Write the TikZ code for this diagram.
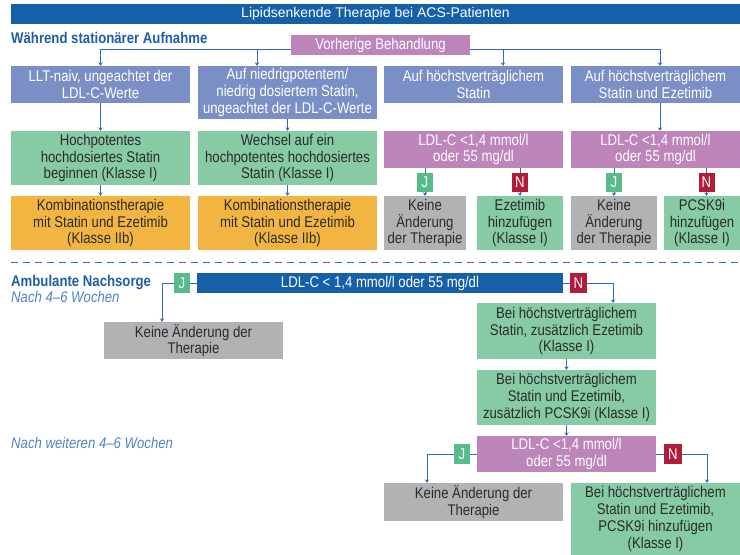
\documentclass[tikz,border=0pt]{standalone}
\usepackage{fontspec}
\setmainfont[FakeStretch=0.85]{Liberation Sans}
\newfontfamily\titelfont{Liberation Sans}
\usetikzlibrary{arrows.meta}
\definecolor{titelblau}{HTML}{1560A9}
\definecolor{kopfblau}{HTML}{1E5EA6}
\definecolor{hellblau}{HTML}{4C84C4}
\definecolor{schiefer}{HTML}{7B8FC7}
\definecolor{lila}{HTML}{BE85BA}
\definecolor{gruen}{HTML}{87CBA5}
\definecolor{orange}{HTML}{F3B541}
\definecolor{grau}{HTML}{B1B2B4}
\definecolor{jgruen}{HTML}{58BC8A}
\definecolor{nrot}{HTML}{B11C3B}
\definecolor{linie}{HTML}{2E6EB8}
\definecolor{dunkel}{HTML}{2B2B2B}
\begin{document}
\begin{tikzpicture}[x=1pt,y=-1pt,
    box/.style={inner sep=0pt, align=center, font=\fontsize{15.5}{16.7}\selectfont},
    frage/.style={box, fill=schiefer, text=white},
    ldl/.style={box, fill=lila, text=white},
    therapie/.style={box, fill=gruen, text=dunkel},
    kombi/.style={box, fill=orange, text=dunkel},
    keine/.style={box, fill=grau, text=dunkel},
    tag/.style={box, text=white, minimum width=16pt, minimum height=19pt},
    ja/.style={tag, fill=jgruen},
    nein/.style={tag, fill=nrot},
    kopf/.style={anchor=base west, inner sep=0pt, text=kopfblau, font=\bfseries\fontsize{15.5}{16}\selectfont},
    zeit/.style={anchor=base west, inner sep=0pt, text=hellblau, font=\itshape\fontsize{15.5}{16}\selectfont},
    pfeil/.style={draw=linie, line width=1pt, -{Stealth[length=3.5pt,width=4.5pt]}},
    trenn/.style={draw=linie, line width=1pt, dash pattern=on 7pt off 5pt}]
    \useasboundingbox (0,0) rectangle (740,555);

    \node[box, fill=titelblau, text=white, minimum width=729pt, minimum height=20pt, font=\titelfont\fontsize{14}{14}\selectfont] (titel) at (375.5,14) {Lipidsenkende Therapie bei ACS-Patienten};
    \node[kopf] (stationaer) at (11,43) {Während stationärer Aufnahme};
    \node[ldl, minimum width=179pt, minimum height=20pt] (vorher) at (380.5,45) {Vorherige Behandlung};

    \node[frage, minimum width=179pt, minimum height=37pt] (naiv) at (100.5,84.5) {LLT-naiv, ungeachtet der\\LDL-C-Werte};
    \node[frage, minimum width=179pt, minimum height=53pt] (niedrig) at (287.5,92.5) {Auf niedrigpotentem/\\niedrig dosiertem Statin,\\ungeachtet der LDL-C-Werte};
    \node[frage, minimum width=179pt, minimum height=37pt] (hoechst) at (473.5,84.5) {Auf höchstverträglichem\\Statin};
    \node[frage, minimum width=169pt, minimum height=37pt] (hoechstez) at (655.5,84.5) {Auf höchstverträglichem\\Statin und Ezetimib};

    \node[therapie, minimum width=179pt, minimum height=54pt] (beginn) at (100.5,158) {Hochpotentes\\hochdosiertes Statin\\beginnen (Klasse I)};
    \node[therapie, minimum width=179pt, minimum height=54pt] (wechsel) at (287.5,158) {Wechsel auf ein\\hochpotentes hochdosiertes\\Statin (Klasse I)};
    \node[ldl, minimum width=179pt, minimum height=37pt] (ldla) at (473.5,149.5) {LDL-C <1,4 mmol/l\\oder 55 mg/dl};
    \node[ldl, minimum width=169pt, minimum height=37pt] (ldlb) at (655.5,149.5) {LDL-C <1,4 mmol/l\\oder 55 mg/dl};

    \node[kombi, minimum width=179pt, minimum height=54pt] (kombia) at (100.5,223) {Kombinationstherapie\\mit Statin und Ezetimib\\(Klasse IIb)};
    \node[kombi, minimum width=179pt, minimum height=54pt] (kombib) at (287.5,223) {Kombinationstherapie\\mit Statin und Ezetimib\\(Klasse IIb)};
    \node[keine, minimum width=82pt, minimum height=54pt] (keinea) at (425,223) {Keine\\Änderung\\der Therapie};
    \node[therapie, minimum width=86pt, minimum height=54pt] (eze) at (520,223) {Ezetimib\\hinzufügen\\(Klasse I)};
    \node[keine, minimum width=86pt, minimum height=54pt] (keineb) at (614,223) {Keine\\Änderung\\der Therapie};
    \node[therapie, minimum width=76pt, minimum height=54pt] (pcsk) at (702,223) {PCSK9i\\hinzufügen\\(Klasse I)};

    \draw[pfeil] ([yshift=-4pt]vorher.west) -| (naiv.north);
    \draw[pfeil] ([yshift=-4pt]vorher.west) -| ([xshift=-30.5pt]niedrig.north);
    \draw[pfeil] ([yshift=-4pt]vorher.east) -| ([xshift=29.5pt]hoechst.north);
    \draw[pfeil] ([yshift=-4pt]vorher.east) -| ([xshift=4.5pt]hoechstez.north);
    \draw[pfeil] (naiv) -- (beginn);
    \draw[pfeil] (niedrig) -- (wechsel);
    \draw[pfeil] ([xshift=4.5pt]hoechstez.south) -- ([xshift=4.5pt]ldlb.north);
    \draw[pfeil] (beginn) -- (kombia);
    \draw[pfeil] (wechsel) -- (kombib);
    \draw[pfeil] (keinea.north |- ldla.south) -- (keinea.north);
    \draw[pfeil] (eze.north |- ldla.south) -- (eze.north);
    \draw[pfeil] (keineb.north |- ldlb.south) -- (keineb.north);
    \draw[pfeil] ([xshift=4.5pt]pcsk.north |- ldlb.south) -- ([xshift=4.5pt]pcsk.north);
    \node[ja] (ja1) at (425,182.5) {J};
    \node[nein] (nein1) at (520,182.5) {N};
    \node[ja] (ja2) at (614,182.5) {J};
    \node[nein] (nein2) at (706.5,182.5) {N};

    \draw[trenn] (11,262) -- (740,262);

    \node[kopf] (ambulant) at (11,286) {Ambulante Nachsorge};
    \node[zeit] (woche) at (11,302) {Nach 4--6 Wochen};
    \node[zeit] (weitere) at (11,448) {Nach weiteren 4--6 Wochen};

    \node[box, fill=titelblau, text=white, minimum width=366pt, minimum height=20pt] (balken) at (380,283) {LDL-C < 1,4 mmol/l oder 55 mg/dl};
    \node[keine, minimum width=179pt, minimum height=37pt] (keinec) at (193.5,340.5) {Keine Änderung der\\Therapie};
    \node[therapie, minimum width=179pt, minimum height=56pt] (zusatzeze) at (566.5,331) {Bei höchstverträglichem\\Statin, zusätzlich Ezetimib\\(Klasse I)};
    \node[therapie, minimum width=179pt, minimum height=55pt] (zusatzpcsk) at (566.5,397.5) {Bei höchstverträglichem\\Statin und Ezetimib,\\zusätzlich PCSK9i (Klasse I)};
    \node[ldl, minimum width=179pt, minimum height=36pt] (ldlc) at (566.5,454) {LDL-C <1,4 mmol/l\\oder 55 mg/dl};
    \node[keine, minimum width=179pt, minimum height=38pt] (keined) at (473.5,502) {Keine Änderung der\\Therapie};
    \node[therapie, minimum width=169pt, minimum height=72pt] (pcskend) at (655.5,519) {Bei höchstverträglichem\\Statin und Ezetimib,\\PCSK9i hinzufügen\\(Klasse I)};

    \draw[pfeil] (balken.west) -| ([xshift=-31.5pt]keinec.north);
    \draw[pfeil] (balken.east) -| ([xshift=46.5pt]zusatzeze.north);
    \draw[pfeil] (zusatzeze) -- (zusatzpcsk);
    \draw[pfeil] (zusatzpcsk) -- (ldlc);
    \draw[pfeil] (ldlc.west) -| ([xshift=-46.5pt]keined.north);
    \draw[pfeil] (ldlc.east) -| ([xshift=51.5pt]pcskend.north);
    \node[ja, minimum height=20pt] (ja3) at (182,283) {J};
    \node[nein, minimum width=17pt, minimum height=20pt] (nein3) at (578.5,283) {N};
    \node[ja, minimum height=20pt] (ja4) at (462,454) {J};
    \node[nein, minimum width=18pt, minimum height=20pt] (nein4) at (673,454) {N};
\end{tikzpicture}
\end{document}
